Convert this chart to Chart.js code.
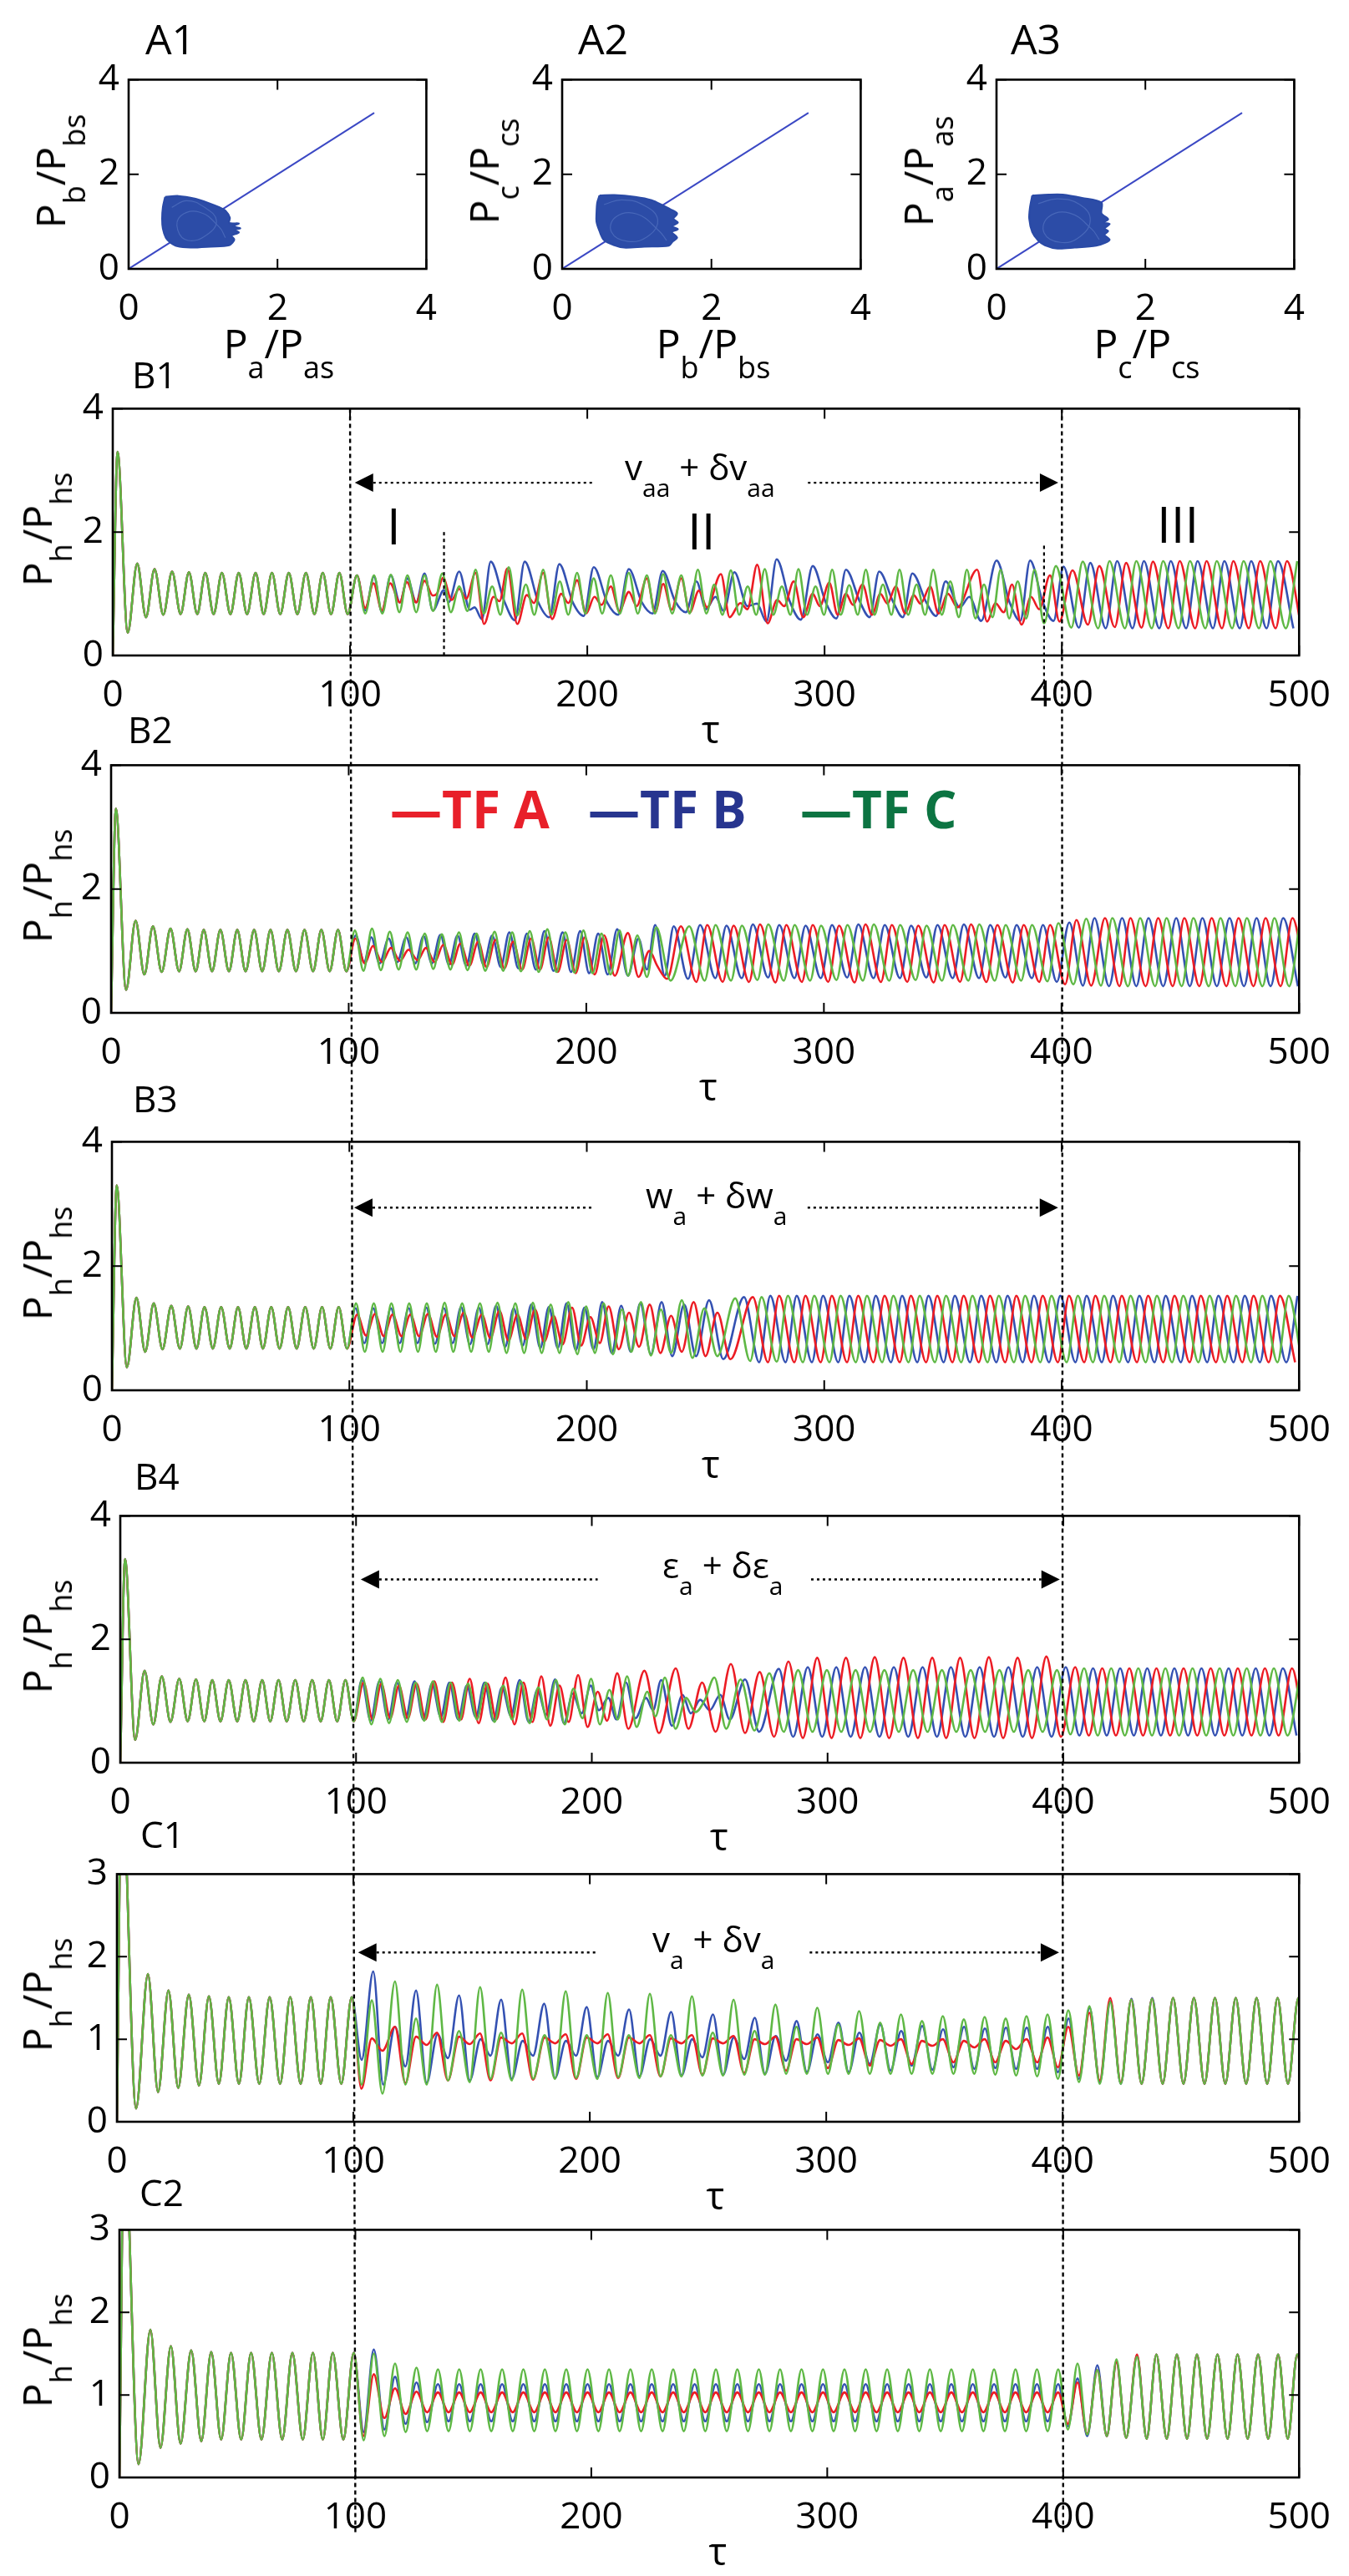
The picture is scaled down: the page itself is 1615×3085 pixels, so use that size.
<!DOCTYPE html>
<html>
<head>
<meta charset="utf-8">
<script src="https://cdn.jsdelivr.net/npm/chart.js@4.4.1/dist/chart.umd.min.js"></script>
<style>
  html, body { margin: 0; padding: 0; background: #fff; }
  #page { position: relative; width: 1615px; height: 3085px; overflow: hidden; background: #fff;
          font-family: "Open Sans", "DejaVu Sans", sans-serif; color: #000; }
  .wrap { position: absolute; z-index: 1; }
  .t { position: absolute; white-space: nowrap; line-height: 1; z-index: 3; }
  .s { position: relative; }
</style>
</head>
<body>
<div id="page"></div>
<script>
// ---------- axis ranges [min, max, step] ----------
const tauRange = [0, 500, 100];
const ratioRangeB = [0, 4, 2];
const ratioRangeC = [0, 3, 1];
const phaseRange = [0, 4, 2];

// ---------- series colours ----------
const RED = '#ec1c24', BLUE = '#3451b2', GREEN = '#5fb845';

// ---------- time courses, extrema as [tau, P/Ps] ----------
// common start of the B runs (identical for all three factors before tau = 100)
const leadB = [[0,0],[2,3.3],[6.3,0.37],[10.3,1.49],[14,0.62],[17.6,1.4],[21.3,0.66],[25,1.36],[28.6,0.67],[32.1,1.35],[35.6,0.67],[39,1.34],[42.5,0.67],[46,1.34],[49.6,0.67],[53.1,1.34],[56.6,0.67],[60.2,1.34],[63.6,0.67],[67.1,1.34],[70.6,0.67],[74.2,1.34],[77.8,0.67],[81.4,1.34],[85,0.67],[88.5,1.34],[92,0.67],[95.5,1.34],[99,0.67]];
// common start of the C runs
const leadC = [[0,0],[2,4.2],[8.1,0.16],[13.1,1.79],[17.4,0.36],[21.8,1.59],[25.9,0.41],[30.4,1.54],[34.7,0.44],[38.9,1.52],[43.1,0.46],[47.3,1.51],[51.6,0.46],[55.8,1.51],[60.2,0.46],[64.6,1.51],[69,0.46],[73.3,1.51],[77.7,0.46],[82,1.51],[86.2,0.46],[90.4,1.51],[94.9,0.46],[99.3,1.51]];

// B1
const b1A = [[102.9,1.30],[106.4,0.77],[109.9,1.17],[113.4,0.73],[116.9,1.17],[121.0,0.86],[123.9,1.19],[127.9,0.86],[131.4,1.21],[134.9,0.97],[136.6,1.00],[139.2,1.26],[142.8,0.90],[146,1.08],[149,0.92],[152.9,1.34],[156.5,0.51],[160.5,0.95],[163,0.88],[166.3,1.41],[170.5,0.51],[174.5,0.98],[177.5,0.85],[181.4,1.34],[185.2,0.59],[189,1.00],[192,0.85],[195.7,1.22],[199.5,0.68],[203,0.95],[206,0.82],[209.9,1.12],[213.5,0.72],[217.5,1.03],[220.8,0.80],[225.1,1.25],[228.6,0.70],[232,1.16],[235.5,0.74],[239.6,1.25],[243.2,0.70],[247,1.05],[250.5,0.78],[256.3,1.32],[260,0.62],[264.5,0.85],[267.5,0.75],[271.6,1.47],[276,0.52],[280,0.90],[283,0.80],[287,1.20],[291,0.62],[295,1.00],[298,0.80],[302,1.18],[305.5,0.66],[309,1.00],[312,0.82],[316,1.15],[320,0.66],[323.5,1.00],[326.5,0.84],[330,1.12],[334,0.68],[337.5,0.98],[340.5,0.84],[344.5,1.12],[348,0.68],[352,1.00],[356,0.78],[364.3,1.39],[368.5,0.55],[372,0.85],[375.5,0.70],[379,1.15],[383,0.50],[387,0.95],[390.5,0.75],[395,1.30],[399,0.55],[404.5,1.38],[411,0.50],[415.8,1.45],[422.3,0.46],[427.1,1.50],[433.6,0.45],[438.4,1.52],[444.9,0.44],[449.7,1.53],[456.2,0.44],[461,1.53],[467.5,0.44],[472.3,1.53],[478.8,0.44],[483.6,1.53],[490.1,0.44],[494.9,1.53],[501,0.44]];
const b1B = [[102.9,1.30],[106.4,0.73],[110.1,1.28],[113.4,0.71],[117.2,1.30],[121.0,0.86],[124.2,1.25],[127.9,0.86],[131.4,1.33],[134.9,0.73],[139.6,1.06],[141.5,0.86],[146,1.36],[150.5,0.74],[152.5,0.78],[155.6,0.59],[159.3,1.52],[165,0.88],[169.5,0.57],[173.6,1.52],[179.5,0.85],[184,0.62],[188.2,1.48],[194,0.85],[198.5,0.64],[202.7,1.43],[208.5,0.85],[213,0.66],[217.5,1.40],[223,0.86],[227.5,0.68],[231.8,1.37],[237,0.88],[241.5,0.70],[246,1.20],[250,0.75],[254,0.95],[257.5,0.72],[262,1.35],[267.5,0.80],[271.5,0.84],[275.5,0.55],[279.8,1.56],[285.5,0.86],[290,0.58],[295,1.45],[300.5,0.86],[305,0.60],[309,1.39],[315,0.86],[319,0.62],[323,1.36],[329,0.86],[333,0.62],[337,1.33],[343,0.85],[347,0.64],[351,1.20],[357,0.78],[361,0.95],[366,0.56],[372.5,1.54],[378,0.86],[382.5,0.56],[386.6,1.54],[392,0.86],[396.5,0.56],[400.7,1.44],[407.2,0.45],[412,1.50],[418.5,0.44],[423.3,1.53],[429.8,0.44],[434.6,1.53],[441.1,0.44],[445.9,1.53],[452.4,0.44],[457.2,1.53],[463.7,0.44],[468.5,1.53],[475,0.44],[479.8,1.53],[486.3,0.44],[491.1,1.53],[497.6,0.44]];
const b1C = [[102.9,1.30],[106.4,0.68],[110.1,1.30],[113.6,0.68],[117.2,1.31],[120.8,0.70],[124.2,1.30],[127.9,0.70],[131.4,1.30],[135,0.72],[138.9,1.33],[142.5,0.70],[146,1.12],[149.5,0.72],[152.9,1.39],[156.4,0.68],[159.9,1.12],[163.4,0.66],[166.9,1.43],[170.5,0.65],[174.1,1.15],[177.7,0.66],[181.4,1.39],[184.9,0.66],[188.4,1.20],[192,0.66],[195.7,1.34],[199.2,0.68],[202.7,1.25],[206.3,0.68],[209.9,1.30],[213.7,0.68],[217.5,1.34],[221.3,0.68],[225.1,1.30],[228.5,0.68],[232,1.32],[235.8,0.68],[239.6,1.30],[243.1,0.68],[246.6,1.39],[250.2,0.68],[253.5,1.15],[257,0.66],[260.5,1.38],[264,0.66],[267.6,1.12],[271.2,0.66],[274.8,1.40],[278.4,0.66],[282,1.12],[285.6,0.66],[289,1.40],[292.6,0.66],[296.2,1.12],[299.8,0.66],[303.2,1.39],[306.8,0.66],[310.4,1.14],[314,0.66],[317.4,1.39],[321,0.66],[324.6,1.15],[328.2,0.66],[331.6,1.39],[335.2,0.66],[338.8,1.15],[342.4,0.66],[345.8,1.39],[349.4,0.66],[353,1.20],[356.6,0.62],[360,1.39],[363.6,0.60],[367.2,1.15],[370.8,0.62],[374.2,1.39],[377.8,0.60],[381.4,1.20],[385,0.60],[388.5,1.39],[392.5,0.52],[397.5,1.45],[404,0.45],[408.8,1.52],[415.3,0.44],[420.1,1.53],[426.6,0.44],[431.4,1.53],[437.9,0.44],[442.7,1.53],[449.2,0.44],[454,1.53],[460.5,0.44],[465.3,1.53],[471.8,0.44],[476.6,1.53],[483.1,0.44],[487.9,1.53],[494.4,0.44],[499.2,1.53]];

// B2
const b2A = [[102.8,1.20],[106.8,0.80],[110.2,1.08],[114,0.82],[117.8,1.05],[121.6,0.84],[125.2,1.02],[129,0.85],[132.5,1.05],[136.2,0.82],[139.8,1.10],[143.5,0.78],[147,1.12],[150.8,0.76],[154.5,1.15],[158,0.74],[161.8,1.18],[165.5,0.72],[169.2,1.15],[173,0.70],[176.8,1.20],[180.5,0.70],[184.2,1.22],[188,0.66],[191.8,1.18],[195.5,0.64],[199.4,1.22],[203.5,0.62],[207.5,1.25],[212,0.60],[217.5,1.29],[222,0.58],[226.5,1.00],[230,0.75],[234,0.55],[239.8,1.40],[246.3,0.50],[250.9,1.42],[257.4,0.50],[262,1.41],[268.5,0.50],[273.1,1.43],[279.6,0.49],[284.2,1.42],[290.7,0.50],[295.3,1.42],[301.8,0.50],[306.4,1.41],[312.9,0.49],[317.5,1.43],[324,0.50],[328.6,1.42],[335.1,0.50],[339.7,1.41],[346.2,0.49],[350.8,1.42],[357.3,0.50],[361.9,1.43],[368.4,0.50],[373,1.42],[379.5,0.49],[384.1,1.42],[390.6,0.50],[395.2,1.42],[401.5,0.46],[406.3,1.50],[412.5,0.44],[418.3,1.53],[424.4,0.43],[429,1.53],[435.4,0.43],[440.7,1.53],[446.8,0.43],[451.7,1.53],[458,0.43],[463.2,1.53],[469.4,0.43],[474.5,1.53],[480.8,0.43],[485.9,1.53],[492.2,0.43],[497.2,1.53],[503,0.45]];
const b2B = [[103,1.25],[106.5,0.82],[109.5,1.22],[113,0.80],[116.8,1.20],[120.4,0.82],[124.2,1.22],[128,0.80],[131.5,1.24],[135,0.80],[138.6,1.26],[142.2,0.78],[145.8,1.25],[149.5,0.76],[153,1.28],[156.8,0.78],[160.4,1.25],[164,0.74],[167.6,1.30],[171.4,0.72],[175,1.28],[178.8,0.70],[182.4,1.32],[186.2,0.68],[190,1.30],[193.6,0.66],[197.4,1.32],[201.2,0.64],[205,1.28],[209,0.62],[213,1.35],[217.5,0.60],[222,1.20],[225.5,0.70],[229,1.42],[233,0.60],[236.8,1.40],[242.8,0.55],[247.9,1.42],[254.3,0.56],[259,1.41],[265.4,0.56],[270.1,1.43],[276.5,0.57],[281.2,1.42],[287.6,0.56],[292.3,1.41],[298.7,0.56],[303.4,1.42],[309.8,0.57],[314.5,1.43],[320.9,0.56],[325.6,1.42],[332,0.56],[336.7,1.41],[343.1,0.57],[347.8,1.42],[354.2,0.56],[358.9,1.43],[365.3,0.56],[370,1.42],[376.4,0.57],[381.1,1.42],[387.5,0.56],[392.2,1.42],[398,0.50],[403.3,1.46],[409,0.44],[413.9,1.53],[420,0.43],[425.5,1.53],[431.5,0.43],[436.6,1.53],[442.8,0.43],[448.3,1.53],[454,0.43],[459.3,1.53],[465.4,0.43],[470.7,1.53],[476.8,0.43],[482.1,1.53],[488,0.43],[493.3,1.53],[499.5,0.43]];
const b2C = [[102.6,1.33],[106.2,0.68],[109.8,1.36],[113.5,0.69],[117.3,1.31],[121,0.70],[124.8,1.30],[128.4,0.70],[132,1.28],[135.6,0.71],[139.2,1.27],[142.8,0.70],[146.4,1.30],[150,0.69],[153.8,1.28],[157.5,0.68],[161.4,1.31],[165,0.68],[168.8,1.30],[172.5,0.67],[176.2,1.32],[180,0.66],[183.6,1.35],[187.4,0.66],[191.2,1.30],[195,0.65],[198.8,1.33],[202.6,0.64],[206.4,1.28],[210.2,0.62],[214,1.33],[217.6,0.60],[221.5,1.25],[225.5,0.58],[229.5,1.38],[235.5,0.52],[243.3,1.40],[249.8,0.52],[254.4,1.42],[260.9,0.52],[265.5,1.41],[272,0.53],[276.6,1.43],[283.1,0.52],[287.7,1.42],[294.2,0.52],[298.8,1.41],[305.3,0.53],[309.9,1.42],[316.4,0.52],[321,1.43],[327.5,0.52],[332.1,1.42],[338.6,0.53],[343.2,1.41],[349.7,0.52],[354.3,1.42],[360.8,0.52],[365.4,1.43],[371.9,0.52],[376.5,1.42],[383,0.52],[387.6,1.42],[394.1,0.51],[398.7,1.45],[405,0.46],[410.4,1.52],[416.6,0.44],[421.4,1.53],[428,0.43],[433.1,1.53],[439.4,0.43],[444.2,1.53],[450.6,0.43],[455.5,1.53],[462,0.43],[466.9,1.53],[473.2,0.43],[478,1.53],[484.6,0.43],[489.6,1.53],[495.8,0.43],[500.5,1.53]];

// B3
const b3A = [[103.3,1.22],[107,0.88],[110.8,1.23],[114.5,0.87],[118.2,1.22],[122,0.87],[125.7,1.22],[129.4,0.87],[133.1,1.23],[136.9,0.86],[140.6,1.22],[144.3,0.87],[148.2,1.25],[151.8,0.85],[155.8,1.22],[159.4,0.84],[163.2,1.28],[167,0.80],[170.8,1.22],[174.5,0.82],[178.2,1.30],[182,0.78],[186,1.20],[189.8,0.74],[193.8,1.33],[197.6,0.72],[201.5,1.18],[205.5,0.76],[209.2,1.35],[213.5,0.66],[217.8,1.25],[222,0.70],[226.5,1.38],[231,0.60],[235.5,1.20],[240,0.62],[245,1.42],[250,0.55],[255,1.25],[260.5,0.50],[269.9,1.50],[276.3,0.45],[281,1.52],[287.4,0.45],[292.1,1.52],[298.5,0.45],[303.2,1.52],[309.6,0.45],[314.3,1.52],[320.7,0.45],[325.4,1.52],[331.8,0.45],[336.5,1.52],[342.9,0.45],[347.6,1.52],[354,0.45],[358.7,1.52],[365.1,0.45],[369.8,1.52],[376.2,0.45],[380.9,1.52],[387.3,0.45],[392,1.52],[398.4,0.45],[403.1,1.52],[409.5,0.45],[414.2,1.52],[420.6,0.45],[425.3,1.52],[431.7,0.45],[436.4,1.52],[442.8,0.45],[447.5,1.52],[453.9,0.45],[458.6,1.52],[465,0.45],[469.7,1.52],[476.1,0.45],[480.8,1.52],[487.2,0.45],[491.9,1.52],[498.3,0.45]];
const b3B = [[102.6,1.32],[106.3,0.76],[110.1,1.32],[113.8,0.76],[117.5,1.32],[121.2,0.76],[125,1.32],[128.7,0.76],[132.4,1.33],[136.1,0.75],[139.8,1.32],[143.5,0.76],[147,1.34],[150.8,0.74],[154.5,1.33],[158.2,0.74],[161.8,1.36],[165.6,0.70],[169.2,1.32],[173,0.72],[176.6,1.38],[180.4,0.68],[184,1.34],[187.8,0.68],[191.5,1.40],[195.4,0.65],[199,1.33],[202.8,0.66],[206.5,1.42],[210.5,0.60],[214.5,1.36],[218.5,0.62],[222.5,1.40],[227,0.58],[231.5,1.42],[236,0.55],[241,1.38],[246,0.55],[251.5,1.45],[257.5,0.50],[266.2,1.50],[272.6,0.45],[277.3,1.52],[283.7,0.45],[288.4,1.52],[294.8,0.45],[299.5,1.52],[305.9,0.45],[310.6,1.52],[317,0.45],[321.7,1.52],[328.1,0.45],[332.8,1.52],[339.2,0.45],[343.9,1.52],[350.3,0.45],[355,1.52],[361.4,0.45],[366.1,1.52],[372.5,0.45],[377.2,1.52],[383.6,0.45],[388.3,1.52],[394.7,0.45],[399.4,1.52],[405.8,0.45],[410.5,1.52],[416.9,0.45],[421.6,1.52],[428,0.45],[432.7,1.52],[439.1,0.45],[443.8,1.52],[450.2,0.45],[454.9,1.52],[461.3,0.45],[466,1.52],[472.4,0.45],[477.1,1.52],[483.5,0.45],[488.2,1.52],[494.6,0.45],[499.3,1.52]];
const b3C = [[102.8,1.40],[106.5,0.62],[110.3,1.40],[114,0.62],[117.7,1.40],[121.5,0.62],[125.2,1.40],[128.9,0.62],[132.6,1.40],[136.4,0.62],[140.1,1.41],[143.8,0.62],[147.5,1.40],[151.3,0.62],[155,1.40],[158.7,0.62],[162.4,1.41],[166.2,0.60],[169.9,1.40],[173.6,0.60],[177.3,1.41],[181,0.60],[184.8,1.38],[188.5,0.60],[192.2,1.42],[196,0.58],[199.7,1.35],[203.4,0.60],[207.1,1.40],[211,0.58],[214.8,1.30],[218.8,0.62],[222.8,1.42],[227,0.56],[231.2,1.30],[235.5,0.60],[240,1.45],[244.5,0.52],[249.5,1.32],[255,0.55],[262.5,1.48],[268.8,0.47],[273.6,1.50],[280,0.46],[284.7,1.52],[291,0.45],[295.8,1.52],[302.2,0.45],[306.9,1.52],[313.3,0.45],[318,1.52],[324.4,0.45],[329.1,1.52],[335.5,0.45],[340.2,1.52],[346.6,0.45],[351.3,1.52],[357.7,0.45],[362.4,1.52],[368.8,0.45],[373.5,1.52],[379.9,0.45],[384.6,1.52],[391,0.45],[395.7,1.52],[402.1,0.45],[406.8,1.52],[413.2,0.45],[417.9,1.52],[424.3,0.45],[429,1.52],[435.4,0.45],[440.1,1.52],[446.5,0.45],[451.2,1.52],[457.6,0.45],[462.3,1.52],[468.7,0.45],[473.4,1.52],[479.8,0.45],[484.5,1.52],[490.9,0.45],[495.6,1.52],[501,0.50]];

// B4
const b4A = [[103.2,1.30],[107,0.70],[110.7,1.28],[114.5,0.72],[118.2,1.25],[122,0.72],[125.7,1.28],[129.5,0.70],[133.2,1.32],[137,0.66],[140.7,1.30],[144.5,0.70],[148.2,1.36],[152,0.64],[155.8,1.28],[159.5,0.70],[163.4,1.38],[167.2,0.62],[171,1.30],[174.8,0.66],[178.6,1.40],[182.4,0.60],[186.3,1.25],[190.2,0.66],[194.2,1.42],[198.2,0.58],[202.5,1.15],[206.5,0.68],[210.8,1.45],[215.5,0.55],[222.3,1.49],[228.5,0.48],[235.6,1.53],[241,0.55],[246.8,1.30],[252.5,0.50],[259,1.60],[265,0.48],[271.2,1.47],[277.3,0.42],[283.4,1.64],[289.5,0.40],[295.6,1.70],[301.7,0.40],[307.8,1.70],[313.9,0.40],[320,1.71],[326.1,0.40],[332.2,1.70],[338.3,0.40],[344.4,1.70],[350.3,0.40],[356.2,1.70],[362.3,0.40],[368.4,1.71],[374.5,0.40],[380.6,1.70],[386.7,0.40],[392.8,1.72],[399,0.42],[405,1.55],[410.8,0.44],[416.5,1.53],[422.3,0.44],[428,1.53],[433.8,0.44],[439.5,1.53],[445.3,0.44],[451,1.53],[456.8,0.44],[462.5,1.53],[468.3,0.44],[474,1.53],[479.8,0.44],[485.5,1.53],[491.3,0.44],[497,1.53],[502,0.50]];
const b4B = [[102.4,1.34],[106.2,0.68],[109.9,1.32],[113.6,0.70],[117.3,1.30],[121,0.72],[124.8,1.32],[128.5,0.70],[132.2,1.28],[135.9,0.74],[139.6,1.30],[143.3,0.70],[147,1.25],[150.8,0.74],[154.5,1.30],[158.2,0.68],[161.9,1.22],[165.7,0.76],[169.4,1.34],[173.2,0.66],[176.9,1.18],[180.7,0.78],[184.4,1.35],[188.2,0.64],[191.9,1.12],[195.7,0.80],[199.5,1.25],[203,0.85],[207,1.05],[210.5,0.70],[214.5,1.30],[218.5,0.72],[223,1.05],[226,0.85],[229.4,1.34],[234,0.60],[238.5,1.10],[242,0.80],[246,1.02],[250,0.85],[254.5,1.10],[258.5,0.70],[265,1.35],[271,0.50],[279.3,1.52],[285.4,0.42],[291.6,1.55],[297.7,0.42],[303.7,1.55],[309.8,0.42],[315.9,1.55],[322,0.42],[328.1,1.55],[334.2,0.42],[340.3,1.55],[346.4,0.42],[352.3,1.55],[358.4,0.42],[364.5,1.55],[370.6,0.42],[376.7,1.55],[382.8,0.42],[388.9,1.55],[395,0.42],[401,1.55],[406.8,0.44],[412.6,1.53],[418.4,0.44],[424.1,1.53],[429.9,0.44],[435.6,1.53],[441.4,0.44],[447.1,1.53],[452.9,0.44],[458.6,1.53],[464.4,0.44],[470.1,1.53],[475.9,0.44],[481.6,1.53],[487.4,0.44],[493.1,1.53],[498.9,0.44]];
const b4C = [[102.8,1.38],[106.5,0.62],[110.3,1.36],[114,0.64],[117.7,1.34],[121.5,0.66],[125.2,1.30],[128.9,0.68],[132.6,1.32],[136.4,0.66],[140.1,1.30],[143.8,0.68],[147.5,1.28],[151.3,0.70],[155,1.30],[158.7,0.66],[162.4,1.25],[166.2,0.70],[169.9,1.32],[173.6,0.64],[177.3,1.22],[181,0.70],[184.8,1.34],[188.5,0.62],[192.2,1.20],[196,0.72],[199.7,1.36],[203.4,0.62],[207.5,1.18],[211,0.70],[215,1.40],[219,0.58],[223.5,1.15],[227,0.75],[231,1.38],[235.5,0.55],[240,1.05],[244,0.82],[248,1.02],[252,1.38],[257,0.55],[263.1,1.35],[269,0.52],[275.3,1.45],[281.4,0.50],[287.5,1.50],[293.6,0.50],[299.7,1.50],[305.8,0.50],[311.9,1.50],[318,0.50],[324.1,1.50],[330.2,0.50],[336.3,1.50],[342.4,0.50],[348.5,1.50],[354.6,0.50],[360.7,1.50],[366.8,0.50],[372.9,1.50],[379,0.50],[385.1,1.50],[391.2,0.50],[397.3,1.50],[403,0.46],[408.8,1.53],[414.6,0.44],[420.3,1.53],[426.1,0.44],[431.8,1.53],[437.6,0.44],[443.3,1.53],[449.1,0.44],[454.8,1.53],[460.6,0.44],[466.3,1.53],[472.1,0.44],[477.8,1.53],[483.6,0.44],[489.3,1.53],[495.1,0.44],[500.8,1.53]];

// C1
const c1A = [[103.4,0.40],[107.8,1.01],[112.3,0.86],[117.6,1.15],[122,0.47],[126.5,1.03],[131,0.93],[135.4,1.08],[140,0.50],[144.7,1.03],[149.2,0.94],[153.6,1.07],[158,0.50],[162.5,1.02],[167,0.95],[171.4,1.07],[176,0.51],[180.9,1.02],[185.3,0.95],[189.8,1.06],[194.2,0.52],[198.7,1.02],[203.2,0.95],[207.6,1.06],[212,0.53],[216.5,1.02],[221,0.95],[225.4,1.05],[229.9,0.55],[234.3,1.01],[238.8,0.95],[243.2,1.05],[247.6,0.57],[252,1.01],[256.4,0.95],[260.8,1.04],[265.3,0.59],[269.7,1.00],[274.1,0.94],[278.5,1.03],[283,0.62],[287.4,1.00],[291.8,0.94],[296.2,1.02],[300.7,0.65],[305.1,0.99],[309.5,0.93],[313.9,1.01],[318.4,0.68],[322.8,0.99],[327.2,0.92],[331.6,1.00],[336.1,0.70],[340.5,0.98],[344.9,0.92],[349.3,1.00],[353.8,0.72],[358.2,0.98],[362.6,0.90],[367,1.00],[371.5,0.72],[375.9,0.98],[380.3,0.88],[384.7,1.00],[389.2,0.72],[393.6,1.02],[398,0.66],[402.4,1.15],[406.9,0.56],[411.3,1.32],[415.7,0.50],[420.1,1.50],[424.6,0.47],[429,1.48],[433.4,0.46],[437.8,1.49],[442.3,0.46]];
const c1B = [[103.5,0.75],[108.4,1.82],[112.6,0.45],[117.6,1.15],[122,0.67],[126.5,1.59],[131,0.47],[135.6,1.06],[140,0.77],[144.7,1.53],[149.2,0.50],[153.8,1.00],[158,0.80],[162.5,1.48],[167,0.52],[171.6,0.98],[176,0.80],[180.7,1.43],[185.3,0.53],[189.9,0.98],[194.2,0.80],[198.7,1.39],[203.2,0.54],[207.7,0.98],[212,0.80],[216.6,1.36],[221,0.55],[225.5,1.00],[229.9,0.80],[234.4,1.33],[238.8,0.56],[243.3,1.00],[247.6,0.78],[252.1,1.30],[256.4,0.57],[260.9,1.02],[265.3,0.76],[269.8,1.26],[274.1,0.58],[278.6,1.04],[283,0.74],[287.5,1.22],[291.8,0.60],[296.3,1.06],[300.7,0.72],[305.2,1.20],[309.5,0.60],[314,1.08],[318.4,0.70],[322.9,1.18],[327.2,0.62],[331.7,1.10],[336.1,0.68],[340.6,1.16],[344.9,0.63],[349.4,1.12],[353.8,0.66],[358.3,1.15],[362.6,0.64],[367.1,1.13],[371.5,0.65],[376,1.14],[380.3,0.64],[384.8,1.14],[389.2,0.64],[393.7,1.15],[398,0.60],[402.5,1.25],[406.9,0.52],[411.4,1.38],[415.7,0.48],[420.2,1.46],[424.6,0.46],[429.1,1.49],[433.4,0.46],[437.9,1.50],[442.3,0.46]];
const c1C = [[103.5,0.45],[107.8,1.47],[112.3,0.34],[117.6,1.70],[122,0.45],[126.5,1.25],[131,0.45],[135.4,1.66],[140,0.50],[144.7,1.10],[149.2,0.48],[153.6,1.63],[158,0.52],[162.5,1.08],[167,0.50],[171.4,1.60],[176,0.52],[180.9,1.05],[185.3,0.52],[189.8,1.58],[194.2,0.53],[198.7,1.05],[203.2,0.52],[207.6,1.56],[212,0.54],[216.5,1.05],[221,0.53],[225.4,1.55],[229.9,0.55],[234.3,1.05],[238.8,0.55],[243.2,1.52],[247.6,0.56],[252,1.08],[256.4,0.56],[260.8,1.48],[265.3,0.57],[269.7,1.10],[274.1,0.57],[278.5,1.42],[283,0.58],[287.4,1.15],[291.8,0.58],[296.2,1.38],[300.7,0.58],[305.1,1.18],[309.5,0.58],[313.9,1.34],[318.4,0.58],[322.8,1.20],[327.2,0.58],[331.6,1.30],[336.1,0.58],[340.5,1.22],[344.9,0.58],[349.3,1.28],[353.8,0.58],[358.2,1.24],[362.6,0.58],[367,1.27],[371.5,0.57],[375.9,1.25],[380.3,0.56],[384.7,1.28],[389.2,0.55],[393.6,1.30],[398,0.52],[402.4,1.35],[406.9,0.48],[411.3,1.40],[415.7,0.46],[420.1,1.45],[424.6,0.46],[429,1.48],[433.4,0.46],[437.8,1.49],[442.3,0.46]];
// the three factors coincide again at the end of C1
const c1Tail = [[446.7,1.50],[451.1,0.46],[455.5,1.50],[460,0.46],[464.4,1.50],[468.8,0.46],[473.2,1.50],[477.6,0.46],[482,1.50],[486.5,0.46],[490.9,1.50],[495.3,0.46],[499.7,1.50],[504,0.46]];

// C2
const c2A = [[103.4,0.50],[107.8,1.25],[112.3,0.72],[116.8,1.08],[121.3,0.77],[125.9,1.04],[130.4,0.79],[135,1.03],[139.5,0.79],[144,1.03],[148.5,0.79],[153.1,1.03],[157.6,0.79],[162.2,1.03],[166.7,0.79],[171.2,1.03],[175.8,0.79],[180.3,1.03],[184.8,0.79],[189.4,1.03],[193.9,0.79],[198.4,1.03],[203,0.79],[207.5,1.03],[212,0.79],[216.6,1.03],[221.1,0.79],[225.6,1.03],[230.2,0.79],[234.7,1.03],[239.2,0.79],[243.8,1.03],[248.3,0.79],[252.8,1.03],[257.4,0.79],[261.9,1.03],[266.4,0.79],[271,1.03],[275.5,0.79],[280,1.03],[284.6,0.79],[289.1,1.03],[293.7,0.79],[298.2,1.03],[302.7,0.79],[307.3,1.03],[311.8,0.79],[316.3,1.03],[320.9,0.79],[325.4,1.03],[329.9,0.79],[334.5,1.03],[339,0.79],[343.5,1.03],[348.1,0.79],[352.6,1.03],[357.1,0.79],[361.7,1.03],[366.2,0.79],[370.7,1.03],[375.3,0.79],[379.8,1.03],[384.3,0.79],[388.9,1.03],[393.4,0.79],[397.9,1.03],[402,0.65],[406.1,1.15],[410.2,0.53],[414.5,1.30],[418.5,0.50],[422.6,1.40],[426.7,0.48],[431.3,1.49]];
const c2B = [[103.5,0.55],[107.8,1.55],[112.3,0.58],[116.8,1.22],[121.3,0.65],[125.9,1.15],[130.4,0.67],[135,1.13],[139.5,0.68],[144,1.13],[148.5,0.68],[153.1,1.13],[157.6,0.68],[162.2,1.13],[166.7,0.68],[171.2,1.13],[175.8,0.68],[180.3,1.13],[184.8,0.68],[189.4,1.13],[193.9,0.68],[198.4,1.13],[203,0.68],[207.5,1.13],[212,0.68],[216.6,1.13],[221.1,0.68],[225.6,1.13],[230.2,0.68],[234.7,1.13],[239.2,0.68],[243.8,1.13],[248.3,0.68],[252.8,1.13],[257.4,0.68],[261.9,1.13],[266.4,0.68],[271,1.13],[275.5,0.68],[280,1.13],[284.6,0.68],[289.1,1.13],[293.7,0.68],[298.2,1.13],[302.7,0.68],[307.3,1.13],[311.8,0.68],[316.3,1.13],[320.9,0.68],[325.4,1.13],[329.9,0.68],[334.5,1.13],[339,0.68],[343.5,1.13],[348.1,0.68],[352.6,1.13],[357.1,0.68],[361.7,1.13],[366.2,0.68],[370.7,1.13],[375.3,0.68],[379.8,1.13],[384.3,0.68],[388.9,1.13],[393.4,0.68],[397.9,1.13],[402,0.62],[406.1,1.20],[410.2,0.50],[414.5,1.36],[418.5,0.50],[422.6,1.40],[426.7,0.48],[431.3,1.48]];
const c2C = [[103.5,0.45],[107.8,1.50],[112.3,0.50],[116.8,1.38],[121.3,0.55],[125.9,1.33],[130.4,0.56],[135,1.31],[139.5,0.56],[144,1.31],[148.5,0.56],[153.1,1.31],[157.6,0.56],[162.2,1.31],[166.7,0.56],[171.2,1.31],[175.8,0.56],[180.3,1.31],[184.8,0.56],[189.4,1.31],[193.9,0.56],[198.4,1.31],[203,0.56],[207.5,1.31],[212,0.56],[216.6,1.31],[221.1,0.56],[225.6,1.31],[230.2,0.56],[234.7,1.31],[239.2,0.56],[243.8,1.31],[248.3,0.56],[252.8,1.31],[257.4,0.56],[261.9,1.31],[266.4,0.56],[271,1.31],[275.5,0.56],[280,1.31],[284.6,0.56],[289.1,1.31],[293.7,0.56],[298.2,1.31],[302.7,0.56],[307.3,1.31],[311.8,0.56],[316.3,1.31],[320.9,0.56],[325.4,1.31],[329.9,0.56],[334.5,1.31],[339,0.56],[343.5,1.31],[348.1,0.56],[352.6,1.31],[357.1,0.56],[361.7,1.31],[366.2,0.56],[370.7,1.31],[375.3,0.56],[379.8,1.31],[384.3,0.56],[388.9,1.31],[393.4,0.56],[397.9,1.31],[402,0.58],[406.1,1.38],[410.2,0.52],[414.5,1.30],[418.5,0.50],[422.6,1.43],[426.7,0.48],[431.3,1.46]];
const c2Tail = [[435.4,0.47],[439.5,1.49],[443.9,0.47],[448.2,1.49],[452.5,0.47],[456.7,1.49],[461,0.47],[465.4,1.49],[469.7,0.47],[473.9,1.49],[478.2,0.47],[482.6,1.49],[486.9,0.47],[491.1,1.49],[495.2,0.47],[499.2,1.49],[503,0.60]];

// ---------- phase portraits (A1: Pb vs Pa, A2: Pc vs Pb, A3: Pa vs Pc) ----------
const diagonal = [[0,0],[3.3,3.3]];
const a1Blob = [[0.49,1.52],[0.67,1.54],[0.9,1.48],[1.06,1.40],[1.22,1.30],[1.30,1.23],[1.36,1.08],[1.35,0.97],[1.48,0.96],[1.40,0.90],[1.50,0.86],[1.42,0.82],[1.48,0.77],[1.38,0.70],[1.42,0.62],[1.35,0.50],[1.10,0.47],[0.83,0.45],[0.65,0.48],[0.56,0.56],[0.50,0.66],[0.46,0.85],[0.45,1.06],[0.46,1.30],[0.49,1.52]];
const a2Blob = [[0.50,1.55],[0.70,1.56],[0.98,1.52],[1.20,1.45],[1.35,1.34],[1.45,1.26],[1.54,1.17],[1.49,1.06],[1.55,0.98],[1.47,0.90],[1.55,0.84],[1.47,0.78],[1.54,0.66],[1.48,0.58],[1.43,0.49],[1.10,0.47],[0.83,0.45],[0.70,0.50],[0.56,0.61],[0.50,0.80],[0.46,1.00],[0.46,1.17],[0.47,1.40],[0.50,1.55]];
const a3Blob = [[0.48,1.55],[0.70,1.57],[0.89,1.57],[1.15,1.50],[1.41,1.40],[1.41,1.17],[1.50,1.05],[1.44,0.98],[1.52,0.95],[1.45,0.85],[1.50,0.80],[1.45,0.72],[1.52,0.62],[1.46,0.55],[1.34,0.49],[1.05,0.45],[0.82,0.43],[0.65,0.50],[0.56,0.60],[0.48,0.78],[0.44,1.06],[0.45,1.30],[0.48,1.55]];
// a few of the inner orbit strands that show as lighter streaks inside the tangle
const a1Strands = [[0.58,1.30],[0.78,1.44],[1.02,1.30],[1.18,1.02],[1.05,0.72],[0.80,0.60],[0.66,0.82],[0.70,1.12],[0.95,1.20],[1.22,0.88],[1.30,0.66]];
const a2Strands = [[0.56,1.36],[0.80,1.46],[1.10,1.34],[1.28,1.04],[1.16,0.70],[0.88,0.58],[0.66,0.78],[0.72,1.10],[1.00,1.16],[1.30,0.80],[1.40,0.60]];
const a3Strands = [[0.56,1.38],[0.82,1.48],[1.12,1.36],[1.26,1.04],[1.12,0.68],[0.86,0.56],[0.64,0.76],[0.70,1.10],[0.98,1.18],[1.28,0.84],[1.38,0.62]];

// ---------- helpers ----------
const W = 1615;
const page = document.getElementById('page');
const pts = arr => arr.map(p => ({x: p[0], y: p[1]}));
const TICK_FONT = {family: 'Open Sans', size: 44};

const framePlugin = {
  id: 'frame',
  afterDatasetsDraw(chart, args, o) {
    const {ctx, chartArea: a} = chart;
    const sx = chart.scales.x, sy = chart.scales.y;
    ctx.save();
    ctx.strokeStyle = '#000';
    ctx.fillStyle = '#000';
    (o.vlines || []).forEach(v => {
      const x = sx.getPixelForValue(v.t);
      ctx.setLineDash([4, 4]);
      ctx.lineWidth = 2.2;
      ctx.beginPath();
      ctx.moveTo(x, sy.getPixelForValue(v.from));
      ctx.lineTo(x, a.bottom + (v.below || 0));
      ctx.stroke();
    });
    if (o.arrow) {
      const y = sy.getPixelForValue(o.arrow.y);
      const [x1, x2, x3, x4] = o.arrow.t.map(t => sx.getPixelForValue(t));
      const L = 22, H = 11;
      ctx.setLineDash([3, 4]);
      ctx.lineWidth = 2.4;
      ctx.beginPath();
      ctx.moveTo(x1 + L, y); ctx.lineTo(x2, y);
      ctx.moveTo(x3, y); ctx.lineTo(x4 - L, y);
      ctx.stroke();
      ctx.setLineDash([]);
      ctx.beginPath(); ctx.moveTo(x1, y); ctx.lineTo(x1 + L, y - H); ctx.lineTo(x1 + L, y + H); ctx.closePath(); ctx.fill();
      ctx.beginPath(); ctx.moveTo(x4, y); ctx.lineTo(x4 - L, y - H); ctx.lineTo(x4 - L, y + H); ctx.closePath(); ctx.fill();
    }
    ctx.setLineDash([]);
    ctx.lineWidth = 2.6;
    ctx.strokeRect(a.left, a.top, a.right - a.left, a.bottom - a.top);
    const tl = o.tick || 12;
    ctx.lineWidth = 2;
    ctx.beginPath();
    sy.ticks.forEach(t => {
      const y = sy.getPixelForValue(t.value);
      ctx.moveTo(a.left, y); ctx.lineTo(a.left + tl, y);
      ctx.moveTo(a.right, y); ctx.lineTo(a.right - tl, y);
    });
    sx.ticks.forEach(t => {
      const x = sx.getPixelForValue(t.value);
      ctx.moveTo(x, a.bottom); ctx.lineTo(x, a.bottom - tl);
      ctx.moveTo(x, a.top); ctx.lineTo(x, a.top + tl);
    });
    ctx.stroke();
    ctx.restore();
  }
};

function axis(range, fit, pad) {
  return {
    type: 'linear', min: range[0], max: range[1],
    afterFit: fit,
    grid: {display: false, drawTicks: false},
    border: {display: false},
    ticks: {stepSize: range[2], autoSkip: false, maxRotation: 0, padding: pad, color: '#000', font: TICK_FONT}
  };
}

function panel(box, datasets, xr, yr, frame, cl, cr) {
  const [L, T, R, B] = box;
  cl = cl ?? 0; cr = cr ?? W;
  const ct = T - 30, cb = B + 78;
  const wrap = document.createElement('div');
  wrap.className = 'wrap';
  wrap.style.cssText = `left:${cl}px;top:${ct}px;width:${cr - cl}px;height:${cb - ct}px`;
  const cv = document.createElement('canvas');
  cv.width = cr - cl; cv.height = cb - ct;
  cv.style.width = (cr - cl) + 'px'; cv.style.height = (cb - ct) + 'px';
  wrap.appendChild(cv);
  page.appendChild(wrap);
  const chart = new Chart(cv, {
    type: 'line',
    data: {datasets},
    options: {
      responsive: false, animation: false, devicePixelRatio: 1, events: [],
      layout: {padding: {left: 0, right: cr - R, top: T - ct, bottom: 0}},
      plugins: {legend: {display: false}, tooltip: {enabled: false}, frame: frame || {}},
      scales: {
        x: axis(xr, s => { s.height = cb - B; }, 22),
        y: axis(yr, s => { s.width = L - cl; }, 11)
      }
    },
    plugins: [framePlugin]
  });
  return {chart, cl, ct};
}

function series(data, color) {
  return {data: pts(data), borderColor: color, borderWidth: 2.6, pointRadius: 0,
          cubicInterpolationMode: 'monotone', fill: false};
}
// dataset 0 is painted last, so TF C (green) ends up on top
function trio(lead, a, b, c, tail) {
  const t = tail || [];
  return [
    series(lead.concat(c, t), GREEN),
    series(lead.concat(a, t), RED),
    series(lead.concat(b, t), BLUE)
  ];
}
function portrait(blob, strands) {
  return [
    {data: pts(strands), borderColor: 'rgba(95,125,200,0.55)', borderWidth: 1.2, pointRadius: 0, tension: 0.45, fill: false},
    {data: pts(blob), borderColor: '#2a4aa6', backgroundColor: '#2c4ca7', borderWidth: 2.2,
     pointRadius: 0, tension: 0.3, fill: 'shape'},
    {data: pts(diagonal), borderColor: '#3b48c4', borderWidth: 2, pointRadius: 0, fill: false}
  ];
}

// ---------- panels ----------
const arrowT = [102, 202.5, 293, 398.5];
const charts = {};
charts.A1 = panel([154, 88, 515, 322], portrait(a1Blob, a1Strands), phaseRange, phaseRange, {}, 94, 545);
charts.A2 = panel([673, 88, 1035, 322], portrait(a2Blob, a2Strands), phaseRange, phaseRange, {}, 613, 1065);
charts.A3 = panel([1193, 88, 1554, 322], portrait(a3Blob, a3Strands), phaseRange, phaseRange, {}, 1133, 1584);
charts.B1 = panel([135, 482, 1567, 785], trio(leadB, b1A, b1B, b1C), tauRange, ratioRangeB,
  {arrow: {y: 2.8, t: arrowT}, vlines: [{t: 139.6, from: 2.0}, {t: 392.5, from: 1.78, below: 42}]});
charts.B2 = panel([133, 909, 1563, 1213], trio(leadB, b2A, b2B, b2C), tauRange, ratioRangeB, {});
charts.B3 = panel([134, 1360, 1568, 1665], trio(leadB, b3A, b3B, b3C), tauRange, ratioRangeB,
  {arrow: {y: 2.94, t: arrowT}});
charts.B4 = panel([144, 1808, 1578, 2111], trio(leadB, b4A, b4B, b4C), tauRange, ratioRangeB,
  {arrow: {y: 2.97, t: arrowT}});
charts.C1 = panel([140, 2237, 1573, 2541], trio(leadC, c1A, c1B, c1C, c1Tail), tauRange, ratioRangeC,
  {arrow: {y: 2.05, t: arrowT}});
charts.C2 = panel([143, 2663, 1576, 2967], trio(leadC, c2A, c2B, c2C, c2Tail), tauRange, ratioRangeC, {});

// ---------- long dotted guides at tau = 100 and 400 through all time panels ----------
(function () {
  const ov = document.createElement('canvas');
  ov.width = W; ov.height = 3085;
  ov.style.cssText = 'position:absolute;left:0;top:0;z-index:2;';
  page.appendChild(ov);
  const ctx = ov.getContext('2d');
  const top = charts.B1, bot = charts.C2;
  ctx.strokeStyle = '#000';
  ctx.lineWidth = 2.4;
  ctx.setLineDash([5, 4]);
  [100, 400].forEach(t => {
    const x1 = top.chart.scales.x.getPixelForValue(t) + top.cl;
    const y1 = top.chart.chartArea.top + top.ct;
    const x2 = bot.chart.scales.x.getPixelForValue(t) + bot.cl;
    const y2 = bot.chart.chartArea.bottom + bot.ct + 66;
    ctx.beginPath(); ctx.moveTo(x1, y1); ctx.lineTo(x2, y2); ctx.stroke();
  });
})();

// ---------- text ----------
const sub = (s, size, dy) => `<span class="s" style="font-size:${size}px;top:${dy}px">${s}</span>`;
function txt(html, x, base, size, o) {
  o = o || {};
  const d = document.createElement('div');
  d.className = 't';
  d.innerHTML = html;
  d.style.fontSize = size + 'px';
  d.style.left = x + 'px';
  d.style.top = (base - 0.888 * size) + 'px';
  if (o.center) d.style.transform = 'translateX(-50%)';
  if (o.color) d.style.color = o.color;
  if (o.weight) d.style.fontWeight = o.weight;
  page.appendChild(d);
  return d;
}
function ylab(html, cx, cy, size) {
  const d = document.createElement('div');
  d.className = 't';
  d.innerHTML = html;
  d.style.fontSize = size + 'px';
  d.style.left = cx + 'px';
  d.style.top = cy + 'px';
  d.style.transform = 'translate(-50%,-50%) rotate(-90deg)';
  page.appendChild(d);
}
const ratio = (n, d) => `P${sub(n, 36, 24)}/P${sub(d, 36, 24)}`;

// panel titles
[['A1', 174, 65, 50], ['A2', 692, 65, 50], ['A3', 1210, 65, 50],
 ['B1', 158, 465, 44], ['B2', 153, 890, 44], ['B3', 159, 1332, 44], ['B4', 161, 1784, 44],
 ['C1', 168, 2213, 44], ['C2', 167, 2642, 44]].forEach(p => txt(p[0], p[1], p[2], p[3]));

// phase-portrait axis labels
txt(ratio('a', 'as'), 334, 430, 48, {center: true});
txt(ratio('b', 'bs'), 854, 430, 48, {center: true});
txt(ratio('c', 'cs'), 1373, 430, 48, {center: true});
ylab(ratio('b', 'bs'), 60, 205, 48);
ylab(ratio('c', 'cs'), 579, 205, 48);
ylab(ratio('a', 'as'), 1099, 205, 48);

// time-panel axis labels
[[135, 482, 1567, 785], [133, 909, 1563, 1213], [134, 1360, 1568, 1665], [144, 1808, 1578, 2111],
 [140, 2237, 1573, 2541], [143, 2663, 1576, 2967]].forEach(b => {
  txt('τ', (b[0] + b[2]) / 2, b[3] + 105, 46, {center: true});
  ylab(ratio('h', 'hs'), 44, (b[1] + b[3]) / 2, 48);
});

// legend
txt('—TF A', 467, 992, 62, {color: '#e8202a', weight: 700});
txt('—TF B', 704, 992, 62, {color: '#27358f', weight: 700});
txt('—TF C', 958, 992, 62, {color: '#0c7442', weight: 700});

// perturbation annotations
txt(`v${sub('aa', 30, 20)} + δv${sub('aa', 30, 20)}`, 748, 575, 42);
txt(`w${sub('a', 30, 20)} + δw${sub('a', 30, 20)}`, 773, 1447, 42);
txt(`ε${sub('a', 30, 20)} + δε${sub('a', 30, 20)}`, 793, 1890, 42);
txt(`v${sub('a', 30, 20)} + δv${sub('a', 30, 20)}`, 781, 2338, 42);

// regimes in B1
txt('I', 463, 652, 60);
txt('II', 823, 658, 60);
txt('III', 1385, 650, 60);
</script>
</body>
</html>
